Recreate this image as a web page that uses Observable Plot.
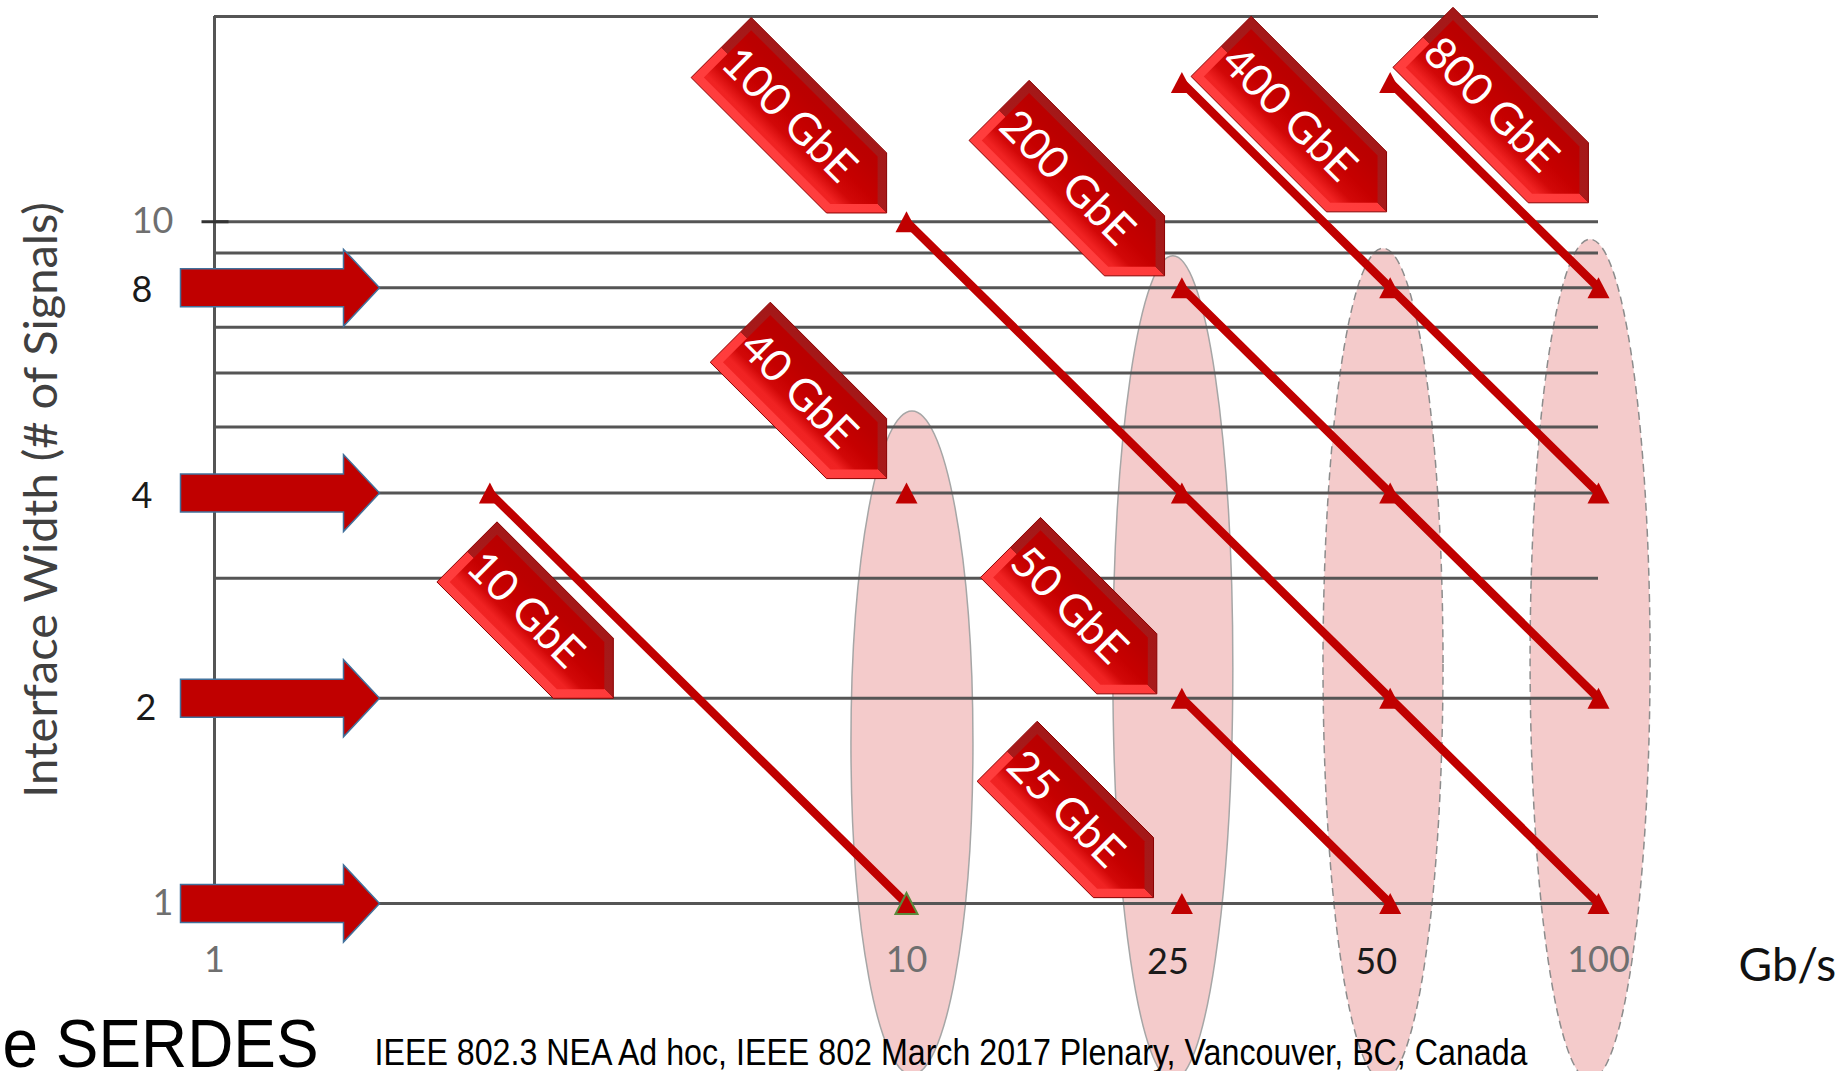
<!DOCTYPE html>
<html>
<head>
<meta charset="utf-8">
<script src="https://cdn.jsdelivr.net/npm/d3@7"></script>
<script src="https://cdn.jsdelivr.net/npm/@observablehq/plot@0.6"></script>
<style>
  html, body { margin: 0; padding: 0; background: #fff; }
  #chart { width: 1842px; height: 1071px; overflow: hidden; }
</style>
</head>
<body>
<div id="chart"></div>
<script>
// ---------------- data ----------------
const yGrid = [1, 2, 3, 4, 5, 6, 7, 8, 9, 10, 20];
const yTickLabels = [1, 10];
const yExtraLabels = [8, 4];
const yExtraLabelsLow = [2];
const xTickLabels = [1, 10, 100];
const xExtraLabels = [25, 50];
const laneRows = [8, 4, 2, 1];

const seriesNames = ["10 GbE", "100 GbE", "200 GbE", "400 GbE", "800 GbE", "50 GbE"];
const seriesRates = [[2.5, 10], [10, 25, 50, 100], [25, 50, 100], [25, 50, 100], [50, 100], [25, 50]];
const seriesLanes = [[4, 1], [10, 4, 2, 1], [8, 4, 2], [16, 8, 4], [16, 8], [2, 1]];
const singleRates = [10, 25];
const singleLanes = [4, 1];
const highlightRates = [10];
const highlightLanes = [1];

const labelNames = ["10 GbE", "40 GbE", "100 GbE", "200 GbE", "400 GbE", "800 GbE", "50 GbE", "25 GbE"];
const labelRates = [3.77, 9.36, 9.36, 23.6, 49.4, 96.7, 23.0, 22.75];
const labelLanes = [2.0, 4.2, 10.3, 8.33, 10.34, 10.66, 2.03, 1.02];

const bandRates = [10.2, 24.3, 48.9, 97.4];
const bandTop = [5.27, 8.9, 9.13, 9.41];
const bandBottom = [0.56, 0.55, 0.55, 0.55];

const yTitle = "Interface Width (# of Signals)";
const xUnit = "Gb/s";
const footLeft = "e SERDES";
const footText = "IEEE 802.3 NEA Ad hoc, IEEE 802 March 2017 Plenary, Vancouver, BC, Canada";

// ---------------- tables ----------------
const points = seriesNames.flatMap((name, i) =>
  seriesRates[i].map((r, j) => ({name, rate: r, lanes: seriesLanes[i][j]})));
const markers = points.concat(singleRates.map((r, i) => ({name: "single", rate: r, lanes: singleLanes[i]})));
const highlight = highlightRates.map((r, i) => ({rate: r, lanes: highlightLanes[i]}));
const labels = labelNames.map((name, i) => ({name, rate: labelRates[i], lanes: labelLanes[i]}));
const longLabels = labels.filter(d => d.name.length >= 7);
const shortLabels = labels.filter(d => d.name.length < 7);

// ---------------- symbols ----------------
const A = Math.SQRT1_2;
function labelShape(L, h, d) {
  return {
    draw(ctx) {
      const s2 = Math.SQRT2;
      const pts = d === 0
        ? [[0, 0], [-h, h], [-L, h], [-L, -h], [-h, -h]]
        : [[-d * s2, 0], [-d * s2 - (h - d), h - d], [-L + d, h - d], [-L + d, -(h - d)], [-d * s2 - (h - d), -(h - d)]];
      pts.forEach(([u, v], i) => {
        const x = A * (u + v), y = A * (u - v);
        if (i) ctx.lineTo(x, y); else ctx.moveTo(x, y);
      });
      ctx.closePath();
    }
  };
}
const H = 42.5, LLONG = 234, LSHORT = 207, BEVEL = 9;
const offLong = -A * (LLONG + H) / 2;
const offShort = -A * (LSHORT + H) / 2;

const blockArrow = {draw(ctx) {
  ctx.moveTo(0, -19); ctx.lineTo(163, -19); ctx.lineTo(163, -38.5); ctx.lineTo(199, 0);
  ctx.lineTo(163, 38.5); ctx.lineTo(163, 19); ctx.lineTo(0, 19); ctx.closePath();
}};
const tri = {draw(ctx) { ctx.moveTo(0, -10.5); ctx.lineTo(11, 10.5); ctx.lineTo(-11, 10.5); ctx.closePath(); }};
const tickSym = {draw(ctx) { ctx.moveTo(-13, 0); ctx.lineTo(14, 0); }};

const RED = "#c00000";

function labelMarks(data, L, off) {
  return [
    Plot.dot(data, {x: "rate", y: "lanes", symbol: labelShape(L, H, 0), fill: "url(#lblOuter)", stroke: "#8a0000", strokeWidth: 1}),
    Plot.dot(data, {x: "rate", y: "lanes", symbol: labelShape(L, H, BEVEL), fill: "url(#lblFace)", stroke: "none"}),
    Plot.text(data, {x: "rate", y: "lanes", text: "name", rotate: 45, dx: off, dy: off,
      fill: "white", fontSize: 44, textAnchor: "middle", lineAnchor: "middle"})
  ];
}

const chart = Plot.plot({
  width: 1842,
  height: 1071,
  marginLeft: 214,
  marginRight: 244,
  marginTop: 16,
  marginBottom: 168,
  style: {fontFamily: "Lato, 'Open Sans', sans-serif", background: "#ffffff", overflow: "visible"},
  x: {type: "log", domain: [1, 100], axis: null},
  y: {type: "log", domain: [1, 20], axis: null},
  marks: [
    Plot.ruleY(yGrid, {x1: 1, x2: 100, stroke: "#555555", strokeWidth: 3}),
    Plot.ruleX([1], {y1: 1, y2: 20, stroke: "#555555", strokeWidth: 3}),
    Plot.dot([10], {x: () => 1, y: d => d, symbol: tickSym, stroke: "#333", strokeWidth: 3, fill: "none"}),
    Plot.text(yTickLabels, {y: d => d, frameAnchor: "left", dx: -41, text: d => String(d), textAnchor: "end",
      lineAnchor: "middle", fontSize: 36, fill: "#6f6f6f"}),
    Plot.text(yExtraLabels, {y: d => d, frameAnchor: "left", dx: -62, dy: 3, text: d => String(d), textAnchor: "end",
      lineAnchor: "middle", fontSize: 36, fill: "#1a1a1a"}),
    Plot.text(yExtraLabelsLow, {y: d => d, frameAnchor: "left", dx: -58, dy: 10, text: d => String(d), textAnchor: "end",
      lineAnchor: "middle", fontSize: 36, fill: "#1a1a1a"}),
    Plot.text(xTickLabels, {x: d => d, frameAnchor: "bottom", dy: 43, text: d => String(d), textAnchor: "middle",
      lineAnchor: "top", fontSize: 36, fill: "#6f6f6f"}),
    Plot.text(xExtraLabels, {x: d => d, frameAnchor: "bottom", dx: -14, dy: 45, text: d => String(d), textAnchor: "middle",
      lineAnchor: "top", fontSize: 36, fill: "#1a1a1a"}),
    Plot.text([xUnit], {frameAnchor: "bottom-right", dx: 140, dy: 63, text: d => d, textAnchor: "start",
      lineAnchor: "middle", fontSize: 46, fill: "#111"}),
    Plot.text([yTitle], {frameAnchor: "left", dx: -173, dy: 40, text: d => d, rotate: -90, textAnchor: "middle",
      lineAnchor: "middle", fontSize: 47, fill: "#404040"}),
    Plot.line(points, {x: "rate", y: "lanes", z: "name", stroke: RED, strokeWidth: 8.5}),
    Plot.dot(markers, {x: "rate", y: "lanes", symbol: tri, fill: RED, stroke: "none"}),
    Plot.dot(highlight, {x: "rate", y: "lanes", symbol: tri, fill: RED, stroke: "#5b8a3c", strokeWidth: 2}),
    Plot.dot(laneRows, {y: d => d, frameAnchor: "left", dx: -34, symbol: blockArrow, fill: RED,
      stroke: "#41719c", strokeWidth: 1.5}),
    ...labelMarks(longLabels, LLONG, offLong),
    ...labelMarks(shortLabels, LSHORT, offShort),
    Plot.text([footLeft], {frameAnchor: "bottom-left", dx: -212, dy: 163, text: d => d, textAnchor: "start",
      lineAnchor: "bottom", fontSize: 68, fontFamily: "'Liberation Sans', Arial, sans-serif", fill: "#000"}),
    Plot.text([footText], {frameAnchor: "bottom-left", dx: 160, dy: 161, text: d => d, textAnchor: "start",
      lineAnchor: "bottom", fontSize: 36, fontFamily: "'Liberation Sans', Arial, sans-serif", fill: "#000"})
  ]
});

// ---------------- decorations via the plot's scales ----------------
const svg = d3.select(chart);
const xs = chart.scale("x"), ys = chart.scale("y");
const defs = svg.insert("defs", ":first-child");
const g1 = defs.append("linearGradient").attr("id", "lblOuter")
  .attr("x1", 1).attr("y1", 0).attr("x2", 0).attr("y2", 1);
[[0, "#9a1414"], [0.5, "#a81a1a"], [0.5, "#ff3a3a"], [1, "#ff4848"]]
  .forEach(([o, c]) => g1.append("stop").attr("offset", o).attr("stop-color", c));
const g2 = defs.append("linearGradient").attr("id", "lblFace")
  .attr("x1", 1).attr("y1", 0).attr("x2", 0).attr("y2", 1);
[[0, "#b00000"], [0.4, "#bb0000"], [0.5, "#c60000"], [0.57, "#d20808"], [0.62, "#f02222"], [1, "#ff3030"]]
  .forEach(([o, c]) => g2.append("stop").attr("offset", o).attr("stop-color", c));

const gEll = svg.insert("g", "defs + *");
bandRates.forEach((r, i) => {
  const top = ys.apply(bandTop[i]), bottom = ys.apply(bandBottom[i]);
  gEll.append("ellipse")
    .attr("cx", xs.apply(r))
    .attr("cy", (top + bottom) / 2)
    .attr("rx", i === 0 ? 61 : 60)
    .attr("ry", (bottom - top) / 2)
    .attr("fill", "#f4cbcb")
    .attr("stroke", i < 2 ? "#a6a6a6" : "#8c8c8c")
    .attr("stroke-width", 1.5)
    .attr("stroke-dasharray", i < 2 ? null : "8,5");
});

svg.selectAll("text").filter(function() { return this.textContent === footText; })
  .attr("textLength", 1153).attr("lengthAdjust", "spacingAndGlyphs");
svg.selectAll("text").filter(function() { return this.textContent === footLeft; })
  .attr("textLength", 316).attr("lengthAdjust", "spacingAndGlyphs");

document.getElementById("chart").appendChild(chart);
</script>
</body>
</html>
